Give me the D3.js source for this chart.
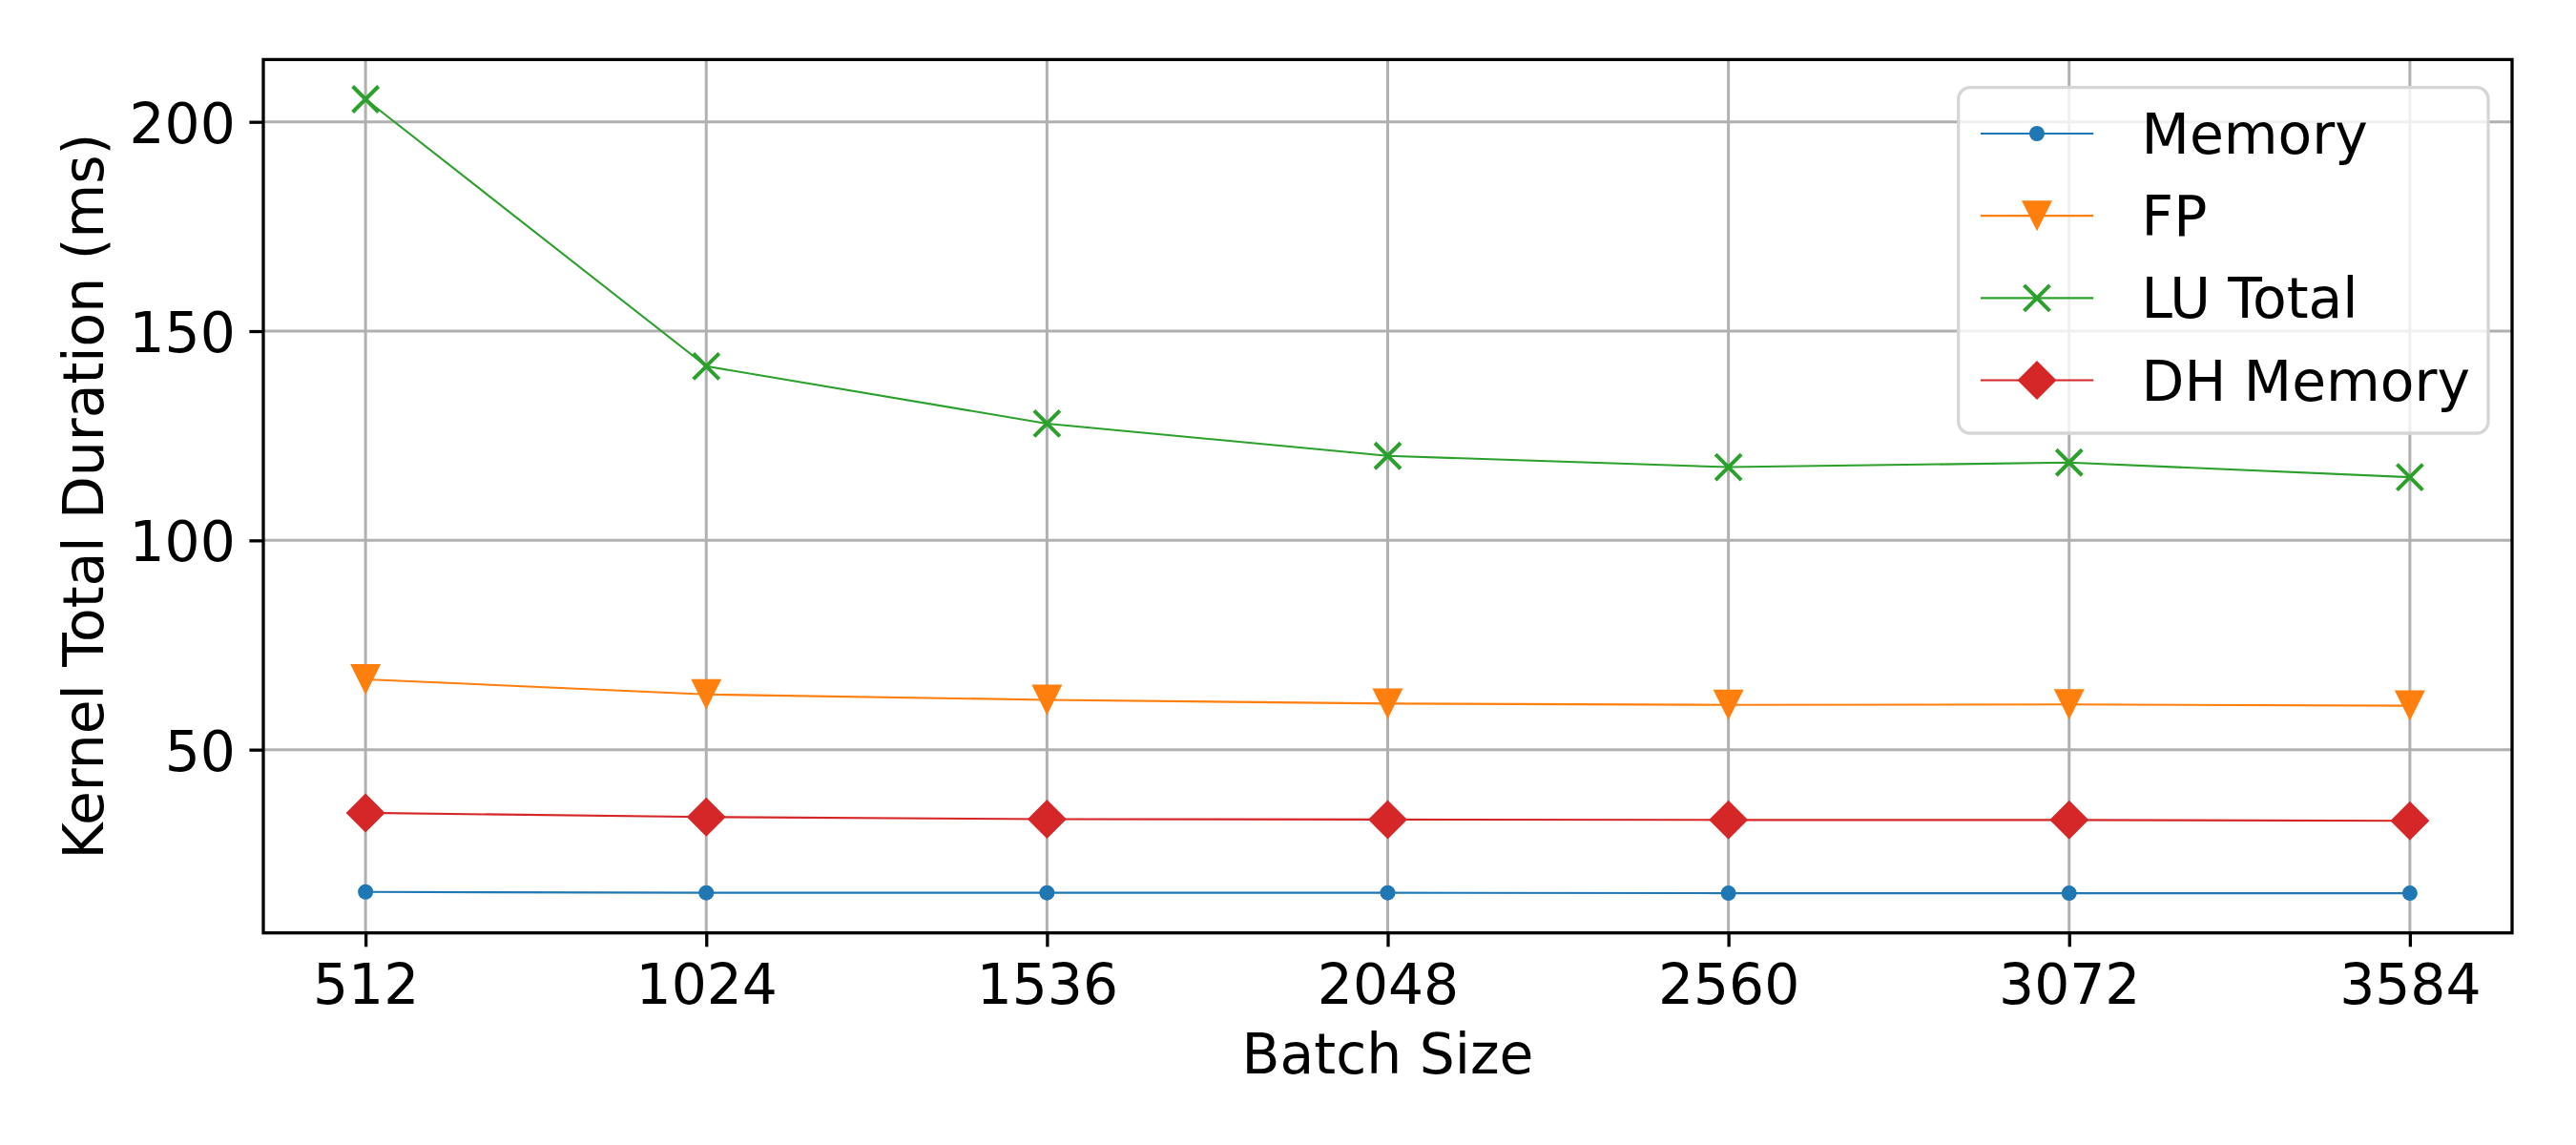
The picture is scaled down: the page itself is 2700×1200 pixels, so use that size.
<!DOCTYPE html>
<html>
<head>
<meta charset="utf-8">
<script src="https://cdn.jsdelivr.net/npm/d3@7"></script>
<style>
  body { margin: 0; background: #fff; }
  text { font-family: "DejaVu Sans", sans-serif; fill: #000; }
</style>
</head>
<body>
<script>
// Data
var batchSizes = [512, 1024, 1536, 2048, 2560, 3072, 3584];
var memory   = [16.0, 15.8, 15.8, 15.8, 15.7, 15.7, 15.7];
var fp       = [66.8, 63.2, 61.9, 61.0, 60.7, 60.8, 60.5];
var luTotal  = [205.4, 141.6, 127.9, 120.2, 117.5, 118.6, 115.1];
var dhMemory = [34.9, 33.9, 33.4, 33.3, 33.2, 33.2, 33.0];
var yTicks = [50, 100, 150, 200];
var seriesNames = ["Memory", "FP", "LU Total", "DH Memory"];

var series = [
  { name: seriesNames[0], values: memory,   color: "#1f77b4", marker: "circle" },
  { name: seriesNames[1], values: fp,       color: "#ff7f0e", marker: "tri" },
  { name: seriesNames[2], values: luTotal,  color: "#2ca02c", marker: "x" },
  { name: seriesNames[3], values: dhMemory, color: "#d62728", marker: "diamond" }
];

var svgWidth = 2700, svgHeight = 1200;
var margin = { top: 62.4, right: 67, bottom: 222.3, left: 276 };
var width = svgWidth - margin.left - margin.right;
var height = svgHeight - margin.top - margin.bottom;
var fontSize = 58.3;

var svg = d3.select("body").append("svg")
  .attr("width", svgWidth)
  .attr("height", svgHeight);

var g = svg.append("g")
  .attr("transform", "translate(" + margin.left + "," + margin.top + ")");

// Scales with matplotlib-like 5% margins
var xSpan = d3.max(batchSizes) - d3.min(batchSizes);
var x = d3.scaleLinear()
  .domain([d3.min(batchSizes) - 0.05 * xSpan, d3.max(batchSizes) + 0.05 * xSpan])
  .range([0, width]);

var allVals = [].concat(memory, fp, luTotal, dhMemory);
var yMin = d3.min(allVals), yMax = d3.max(allVals);
var ySpan = yMax - yMin;
var y = d3.scaleLinear()
  .domain([yMin - 0.05 * ySpan, yMax + 0.05 * ySpan])
  .range([height, 0]);

// Grid
g.append("g").selectAll("line")
  .data(batchSizes).enter().append("line")
  .attr("x1", function (d) { return x(d); })
  .attr("x2", function (d) { return x(d); })
  .attr("y1", 0).attr("y2", height)
  .attr("stroke", "#b0b0b0").attr("stroke-width", 3);

g.append("g").selectAll("line")
  .data(yTicks).enter().append("line")
  .attr("y1", function (d) { return y(d); })
  .attr("y2", function (d) { return y(d); })
  .attr("x1", 0).attr("x2", width)
  .attr("stroke", "#b0b0b0").attr("stroke-width", 3);

// Marker shapes
function markerPath(type) {
  if (type === "circle") {
    var r = 8;
    return "M" + (-r) + ",0A" + r + "," + r + " 0 1,0 " + r + ",0A" + r + "," + r + " 0 1,0 " + (-r) + ",0Z";
  }
  if (type === "tri") {
    var h = 16;
    return "M0," + h + "L" + (-h) + "," + (-h) + "L" + h + "," + (-h) + "Z";
  }
  if (type === "diamond") {
    var d = 20.5;
    return "M0," + (-d) + "L" + d + ",0L0," + d + "L" + (-d) + ",0Z";
  }
  var s = 13.5;
  return "M" + (-s) + "," + (-s) + "L" + s + "," + s + "M" + (-s) + "," + s + "L" + s + "," + (-s);
}

function drawMarker(sel, type, color) {
  if (type === "x") {
    sel.attr("d", markerPath(type)).attr("fill", "none")
      .attr("stroke", color).attr("stroke-width", 4);
  } else {
    sel.attr("d", markerPath(type)).attr("fill", color).attr("stroke", "none");
  }
}

var line = d3.line()
  .x(function (d) { return x(d[0]); })
  .y(function (d) { return y(d[1]); });

series.forEach(function (s) {
  var pts = batchSizes.map(function (b, i) { return [b, s.values[i]]; });
  var sg = g.append("g");
  sg.append("path")
    .datum(pts)
    .attr("d", line)
    .attr("fill", "none")
    .attr("stroke", s.color)
    .attr("stroke-width", 2.1);
  sg.selectAll("path.m")
    .data(pts).enter().append("path")
    .attr("class", "m")
    .attr("transform", function (d) { return "translate(" + x(d[0]) + "," + y(d[1]) + ")"; })
    .call(drawMarker, s.marker, s.color);
});

// Axes
var bottomAxis = d3.axisBottom(x).tickValues(batchSizes).tickSize(14.6).tickPadding(14.6).tickFormat(d3.format("d"));
var leftAxis = d3.axisLeft(y).tickValues(yTicks).tickSize(14.6).tickPadding(14.6);

var xAxisG = g.append("g")
  .attr("transform", "translate(0," + height + ")")
  .call(bottomAxis);
xAxisG.select(".domain").remove();
xAxisG.selectAll("line").attr("stroke", "#000").attr("stroke-width", 3.3);
xAxisG.selectAll("text")
  .attr("dy", null)
  .attr("y", 1051.7 - margin.top - height)
  .style("font-size", fontSize + "px")
  .style("font-family", "DejaVu Sans");

var yAxisG = g.append("g").call(leftAxis);
yAxisG.select(".domain").remove();
yAxisG.selectAll("line").attr("stroke", "#000").attr("stroke-width", 3.3);
yAxisG.selectAll("text")
  .attr("dy", "0.37em")
  .style("font-size", fontSize + "px")
  .style("font-family", "DejaVu Sans");

// Frame
g.append("rect")
  .attr("x", 0).attr("y", 0)
  .attr("width", width).attr("height", height)
  .attr("fill", "none")
  .attr("stroke", "#000")
  .attr("stroke-width", 3.3);

// Axis labels
svg.append("text")
  .attr("x", margin.left + width / 2)
  .attr("y", 1125)
  .attr("text-anchor", "middle")
  .style("font-size", fontSize + "px")
  .text("Batch Size");

svg.append("text")
  .attr("transform", "translate(108," + (margin.top + height / 2) + ") rotate(-90)")
  .attr("text-anchor", "middle")
  .style("font-size", fontSize + "px")
  .text("Kernel Total Duration (ms)");

// Legend
var legend = svg.append("g");
legend.append("rect")
  .attr("x", 2052.7).attr("y", 91.7)
  .attr("width", 2608 - 2052.7).attr("height", 454 - 91.7)
  .attr("rx", 12).attr("ry", 12)
  .attr("fill", "#fff").attr("fill-opacity", 0.8)
  .attr("stroke", "#d6d6d6").attr("stroke-width", 3.3);

var rowY = d3.scaleLinear().domain([0, 3]).range([140, 398.5]);
series.forEach(function (s, i) {
  var ry = rowY(i);
  legend.append("line")
    .attr("x1", 2075.9).attr("x2", 2194.2)
    .attr("y1", ry).attr("y2", ry)
    .attr("stroke", s.color).attr("stroke-width", 2.1);
  legend.append("path")
    .attr("transform", "translate(2135," + ry + ")")
    .call(drawMarker, s.marker, s.color);
  legend.append("text")
    .attr("x", 2244.6)
    .attr("y", ry + 21)
    .style("font-size", fontSize + "px")
    .text(s.name);
});
</script>
</body>
</html>
